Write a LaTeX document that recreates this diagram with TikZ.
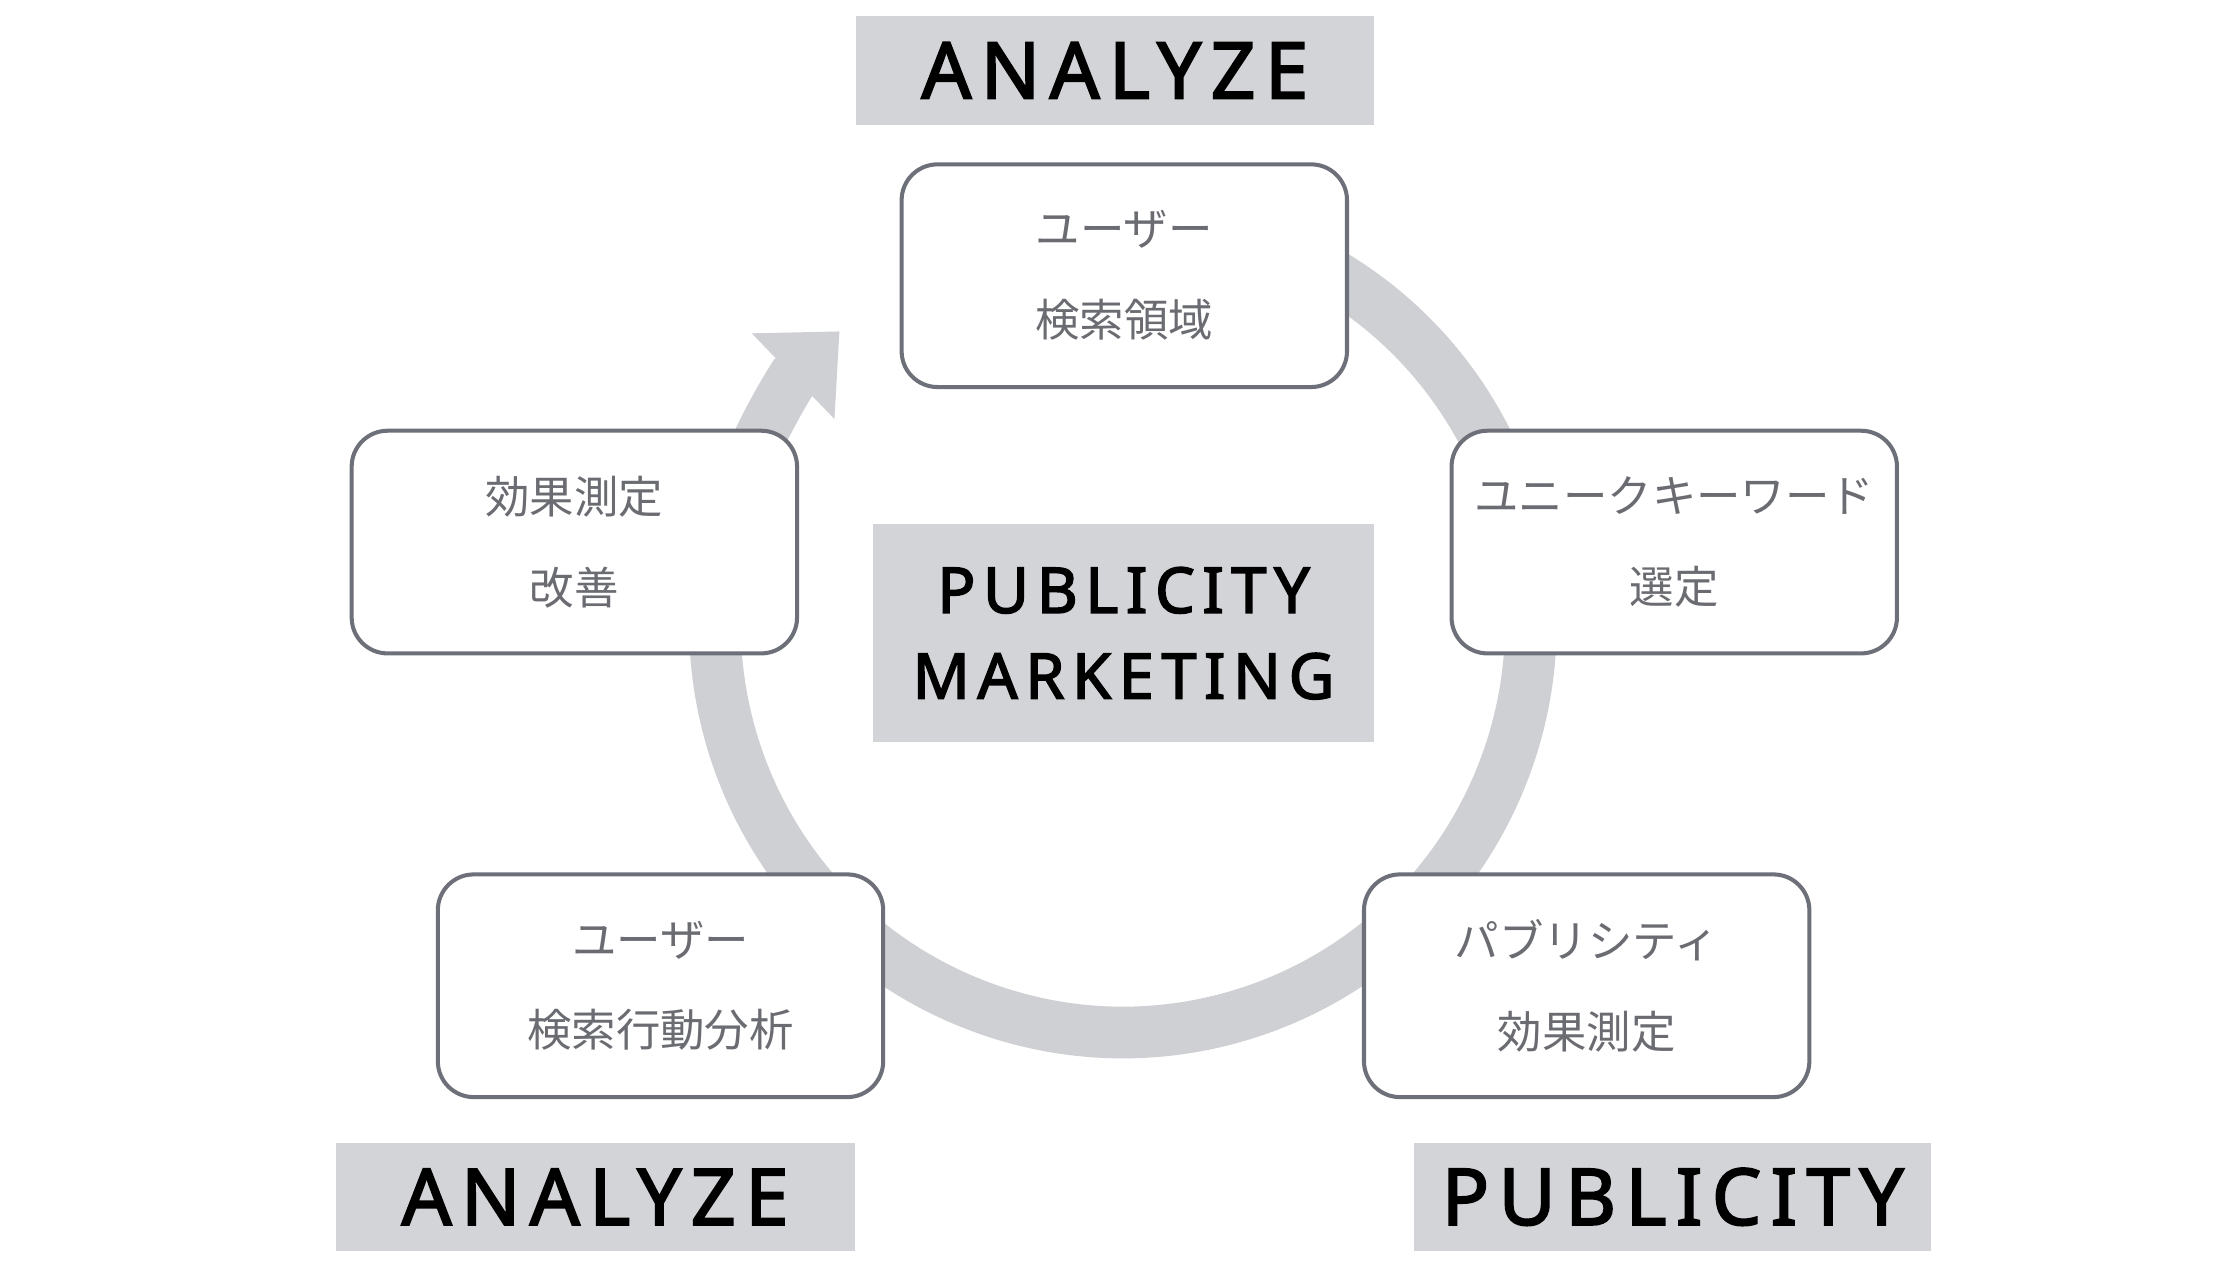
\documentclass[tikz,border=0pt]{standalone}
\usepackage{fontspec}
\usetikzlibrary{arrows.meta}
\newfontfamily\jpfont{Noto Sans CJK JP}
\newfontfamily\titlefont{Noto Sans}[LetterSpace=12,FakeBold=2.5]
\definecolor{tagfill}{HTML}{D3D4D8}
\definecolor{ringgray}{HTML}{CFD0D4}
\definecolor{boxline}{HTML}{6E7079}
\definecolor{textgray}{HTML}{6A6C72}
\tikzset{
  tag/.style={fill=tagfill,inner sep=0,font=\titlefont\fontsize{15.5}{20}\selectfont,text=black},
  stage/.style={draw=boxline,line width=0.8pt,fill=white,rounded corners=0.25cm,
    minimum width=3.1cm,minimum height=1.55cm,inner sep=0,align=center,
    font=\jpfont\fontsize{8.8}{18}\selectfont,text=textgray}
}
\begin{document}
\begin{tikzpicture}[x=0.01cm,y=0.01cm]
\useasboundingbox (0,0) rectangle (1560,877.5);

% ring
\draw[ringgray,line width=0.36cm,-{Triangle[width=0.8cm,length=0.45cm]}]
  (782,442.5) ++(70:284) arc[start angle=70,end angle=-226,radius=284];

% tags
\node[tag,minimum width=3.61cm,minimum height=0.76cm] (topa) at (776.5,828.5) {ANALYZE};
\node[tag,minimum width=3.61cm,minimum height=0.75cm] (bota) at (414.5,44) {ANALYZE};
\node[tag,minimum width=3.6cm,minimum height=0.75cm] (botp) at (1165,44) {PUBLICITY};
\node[tag,minimum width=3.49cm,minimum height=1.52cm,align=center,
  font=\titlefont\fontsize{12.5}{17}\selectfont] (core) at (782.5,436.5) {PUBLICITY\\MARKETING};

% stages
\node[stage] (s1) at (783,685.5) {ユーザー\\検索領域};
\node[stage] (s2) at (1166,500) {ユニークキーワード\\選定};
\node[stage] (s3) at (1105,191) {パブリシティ\\効果測定};
\node[stage] (s4) at (460,191) {ユーザー\\検索行動分析};
\node[stage] (s5) at (400,500) {効果測定\\改善};

\end{tikzpicture}
\end{document}
